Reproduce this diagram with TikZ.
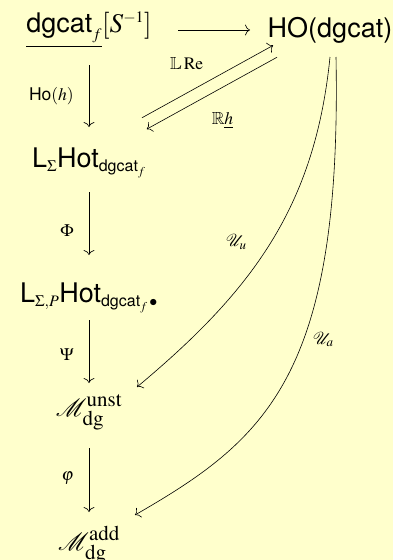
\documentclass[tikz,border=0pt]{standalone}
\usepackage{amsmath,amssymb}
\usepackage{mathptmx}
\usepackage{mathrsfs}
\usepackage[no-math]{fontspec}
\setsansfont{TeX Gyre Heros}
\usepackage{tikz}
\usetikzlibrary{positioning,arrows.meta,calc}
\definecolor{slidebg}{RGB}{255,255,204}
\DeclareMathSizes{27}{27}{16}{12}
\newcommand{\bigscr}[1]{\hbox{\fontsize{21}{22}\selectfont$\mathrm{#1}$}}

\begin{document}
\begin{tikzpicture}[x=1pt,y=1pt,line width=0.6pt,
  >={To[length=5pt,width=11pt]},
  obj/.style={inner sep=0pt,font=\fontsize{27}{30}\selectfont},
  lbl/.style={inner sep=0pt,font=\fontsize{17.5}{20}\selectfont}]
  \fill[slidebg] (0,0) rectangle (393,-560);
  \useasboundingbox (0,0) rectangle (393,-560);
  % objects, centred on the column x=89 as in the matrix
  \node[obj] (src)   at (89,-30)  {$\underline{\textsf{dgcat}_f}[S^{-1}]$};
  \node[obj] (HO)    at (330,-30) {\textsf{HO(dgcat)}};
  \node[obj] (LHot)  at (89,-163) {$\textsf{L}_{\Sigma}\textsf{Hot}_{\textsf{dgcat}_f}$};
  \node[obj] (LPHot) at (89,-298) {$\textsf{L}_{\Sigma,P}\textsf{Hot}_{\textsf{dgcat}_f\,\bullet}$};
  \node[obj] (Munst) at (89,-412) {$\mathscr{M}^{\bigscr{unst}}_{\bigscr{dg}}$};
  \node[obj] (Madd)  at (89,-545) {$\mathscr{M}^{\bigscr{add}}_{\bigscr{dg}}$};
  % top row
  \draw[->,shorten <=89pt,shorten >=80pt] (src.center) -- (HO.center);
  % left column
  \foreach \a/\b/\s/\t/\lab in {src/LHot/35/36/$\textsf{Ho}(h)$,
      LHot/LPHot/29/43/$\Phi$, LPHot/Munst/22/29/$\Psi$, Munst/Madd/36/33/$\varphi$}
    \draw[->,shorten <=\s pt,shorten >=\t pt] (\a.center) -- (\b.center)
      node[lbl,midway,left=15pt] {\lab};
  % adjunction
  \draw[->,shorten <=60.5pt,shorten >=65pt] ([yshift=16pt]LHot.center) -- ([yshift=16pt]HO.center)
    node[lbl,midway,above left=11pt and 6pt] {$\mathbb{L}\,\mathrm{Re}$};
  \draw[->,shorten <=60.5pt,shorten >=66pt] ([yshift=2pt]HO.center) -- ([yshift=2pt]LHot.center)
    node[lbl,midway,below right=18pt and 2pt] {$\mathbb{R}\underline{h}$};
  % long curved arrows
  \draw[->] ($(HO.center)+(0,-27)$) .. controls +(-15,-150) and +(115,96) .. ($(Munst.center)+(48,25)$)
    node[lbl,pos=.5,left=24pt] {$\mathscr{U}_u$};
  \draw[->] ($(HO.center)+(6,-27)$) .. controls +(6,-320) and +(130,75) .. ($(Madd.center)+(46,30)$)
    node[lbl,pos=.41,right=9pt] {$\mathscr{U}_a$};
\end{tikzpicture}
\end{document}
